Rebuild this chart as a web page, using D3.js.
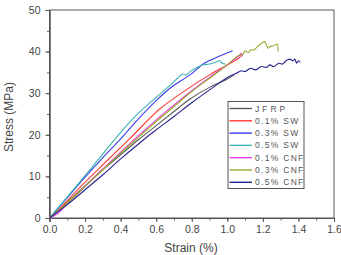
<!DOCTYPE html>
<html>
<head>
<meta charset="utf-8">
<script src="https://cdn.jsdelivr.net/npm/d3@7"></script>
<style>
  body { margin: 0; background: #fff; }
  text { font-family: "Liberation Sans", Arial, sans-serif; }
</style>
</head>
<body>
<svg id="chart" width="341" height="255"></svg>
<script>
const seriesNames = ['JFRP', '0.1% SW', '0.3% SW', '0.5% SW', '0.1% CNF', '0.3% CNF', '0.5% CNF'];
const seriesColors = ['#5a5a5a', '#ff3b3b', '#3c3cf0', '#3cb4b4', '#f03cf0', '#9aa82a', '#24248c'];

const jfrp = [[0,0],[0.1,3.8],[0.2,7.8],[0.3,11.6],[0.4,15.2],[0.5,18.8],[0.6,22.2],[0.7,25.6],[0.79,28.6],[0.9,31.4],[1.0,33.4],[1.04,34.4]];
const sw01 = [[0,0],[0.1,4.2],[0.2,8.6],[0.3,12.8],[0.45,19],[0.62,26.2],[0.79,31.4],[0.9,34.4],[1.0,36.8],[1.07,38.6],[1.08,39.4]];
const sw03 = [[0,0],[0.1,4.9],[0.2,9.8],[0.3,14.5],[0.4,19],[0.5,23.8],[0.6,28.2],[0.69,31.6],[0.79,34.4],[0.87,37.2],[0.95,38.8],[1.03,40.2]];
const sw05 = [[0,0],[0.1,5.1],[0.2,10.2],[0.3,15.4],[0.4,20.6],[0.5,25.2],[0.6,29],[0.66,31.2],[0.72,33.6],[0.75,34.6],[0.77,34.4],[0.79,35.2],[0.83,36.2],[0.86,36.8],[0.9,37],[0.93,37.4],[0.96,37.8],[0.97,37.2],[0.99,37.0]];
const cnf01 = [[0,0],[0.05,1.2],[0.1,3.4],[0.2,7.6],[0.3,11.8],[0.4,15.8],[0.5,19.8],[0.6,23.6],[0.7,27.2],[0.8,30.6],[0.9,33.8],[1.0,36.8],[1.06,38.8],[1.08,39.6],[1.085,38.8]];
const cnf03 = [[0,0],[0.1,3.6],[0.2,7.6],[0.3,11.6],[0.4,15.6],[0.5,19.4],[0.6,23.2],[0.7,26.8],[0.8,30.4],[0.9,33.6],[1.0,36.8],[1.06,39],[1.09,39.4],[1.1,40.2],[1.12,39.8],[1.13,40.4],[1.15,40.4],[1.17,41.2],[1.21,42.4],[1.22,41.6],[1.23,40.8],[1.24,41.2],[1.26,41.4],[1.28,41.8],[1.285,40]];
const cnf05 = [[0,0],[0.1,3.2],[0.2,6.8],[0.3,10.4],[0.4,14.2],[0.5,17.8],[0.6,21.2],[0.7,24.4],[0.79,27.4],[0.9,30.8],[1.01,34],[1.05,34.8],[1.08,35.4],[1.1,35.2],[1.13,36],[1.16,35.6],[1.19,36.4],[1.22,36.2],[1.24,36.8],[1.26,36.4],[1.29,37.2],[1.31,37],[1.33,37.8],[1.35,38.2],[1.37,37.8],[1.38,38.2],[1.39,37.2],[1.4,37.8],[1.41,37.4]];
const seriesData = [jfrp, sw01, sw03, sw05, cnf01, cnf03, cnf05];

const xTicks = [0, 0.2, 0.4, 0.6, 0.8, 1.0, 1.2, 1.4, 1.6];
const yTicks = [0, 10, 20, 30, 40, 50];

const svg = d3.select('#chart');
const m = { left: 49.5, right: 334, top: 10, bottom: 218 };

const x = d3.scaleLinear().domain([0, 1.6]).range([m.left, m.right]);
const y = d3.scaleLinear().domain([0, 50]).range([m.bottom, m.top]);

// frame
svg.append('rect')
    .attr('x', m.left).attr('y', m.top)
    .attr('width', m.right - m.left).attr('height', m.bottom - m.top)
    .attr('fill', 'none').attr('stroke', '#555').attr('stroke-width', 1);

// minor + major ticks
svg.append('g').attr('transform', `translate(0,${m.bottom})`)
    .call(d3.axisBottom(x).tickValues(d3.range(0, 1.61, 0.1)).tickSize(2.5).tickFormat(''));
svg.append('g').attr('transform', `translate(0,${m.bottom})`)
    .call(d3.axisBottom(x).tickValues(xTicks).tickSize(4).tickPadding(4).tickFormat(d3.format('.1f')));

svg.append('g').attr('transform', `translate(${m.left},0)`)
    .call(d3.axisLeft(y).tickValues(d3.range(0, 51, 5)).tickSize(2.5).tickFormat(''));
svg.append('g').attr('transform', `translate(${m.left},0)`)
    .call(d3.axisLeft(y).tickValues(yTicks).tickSize(4).tickPadding(5));

svg.selectAll('.domain').attr('stroke', '#555');
svg.selectAll('.tick line').attr('stroke', '#555');
svg.selectAll('.tick text').attr('fill', '#444').attr('font-size', 10.5)
    .attr('font-family', '"Liberation Sans", Arial, sans-serif');

// curves
const line = d3.line().x(d => x(d[0])).y(d => y(d[1])).curve(d3.curveCatmullRom.alpha(0.5));
seriesData.forEach((s, i) => {
    svg.append('path')
        .datum(s)
        .attr('d', line)
        .attr('fill', 'none')
        .attr('stroke', seriesColors[i])
        .attr('stroke-width', 1.1)
        .attr('stroke-linejoin', 'round');
});

// axis titles
svg.append('text')
    .attr('x', 191).attr('y', 252)
    .attr('text-anchor', 'middle')
    .attr('font-size', 12).attr('fill', '#444')
    .text('Strain (%)');
svg.append('text')
    .attr('transform', 'translate(13,117) rotate(-90)')
    .attr('text-anchor', 'middle')
    .attr('font-size', 12).attr('fill', '#444')
    .text('Stress (MPa)');

// legend
const lg = svg.append('g');
lg.append('rect')
    .attr('x', 228).attr('y', 101.5)
    .attr('width', 76).attr('height', 87)
    .attr('fill', '#fff').attr('stroke', '#555').attr('stroke-width', 1);
seriesNames.forEach((name, i) => {
    const yy = 108.5 + i * 12.3;
    lg.append('line')
        .attr('x1', 229.5).attr('x2', 252)
        .attr('y1', yy).attr('y2', yy)
        .attr('stroke', seriesColors[i]).attr('stroke-width', 1.4);
    lg.append('text')
        .attr('x', 255).attr('y', yy + 3)
        .attr('font-size', 8.5).attr('fill', '#555')
        .attr('letter-spacing', i === 0 ? 3 : 1.3)
        .text(name);
});
</script>
</body>
</html>
